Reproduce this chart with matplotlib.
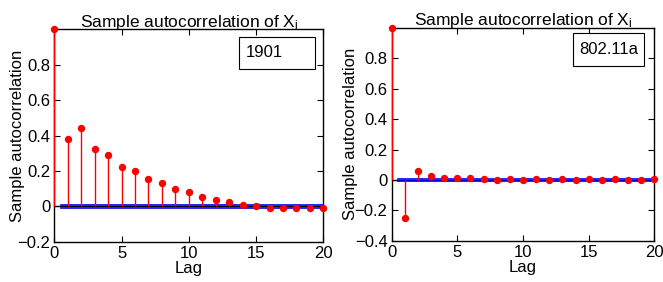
import numpy as np
import matplotlib
matplotlib.use("Agg")
import matplotlib.pyplot as plt
from matplotlib.patches import Rectangle

plt.rcParams['font.family'] = ['Liberation Sans', 'DejaVu Sans']
plt.rcParams['mathtext.fontset'] = 'custom'
plt.rcParams['mathtext.rm'] = 'Liberation Sans'

# lags 0..20
lags = list(range(21))
acf_1901 = [1.0, 0.381, 0.445, 0.321, 0.289, 0.221, 0.202, 0.153, 0.134, 0.100,
            0.079, 0.053, 0.034, 0.027, 0.008, 0.002, -0.010, -0.010, -0.010,
            -0.010, -0.010]
acf_80211a = [1.0, -0.248, 0.056, 0.024, 0.015, 0.015, 0.010, 0.003, 0.002, 0.005,
              -0.002, 0.008, -0.002, 0.003, 0.000, 0.003, 0.002, 0.007, 0.002,
              0.000, 0.005]
bounds_1901 = [0.008, -0.008]
bounds_80211a = [0.004, -0.004]
labels = ["1901", "802.11a"]

fig = plt.figure(figsize=(6.63, 2.82), dpi=100)
ax1 = fig.add_axes([0.0819, 0.1429, 0.4058, 0.7532])
ax2 = fig.add_axes([0.5908, 0.1465, 0.3961, 0.7542])


def draw_acf(ax, acf, bounds, label, ylim, yticks, ylabel_x, box):
    ax.axhline(0, color='k', lw=1.0, zorder=1)
    for b in bounds:
        ax.plot([0.5, 20], [b, b], color='#0000ff', lw=1.2, zorder=2)
    ax.vlines(lags, 0, acf, color='#ff0000', lw=1.0, zorder=3, clip_on=False)
    ax.plot(lags, acf, 'o', color='#ff0000', markersize=4.3, zorder=4, clip_on=False)

    ax.set_xlim(0, 20)
    ax.set_ylim(*ylim)
    ax.set_xticks([0, 5, 10, 15, 20])
    ax.set_yticks(yticks)
    ax.set_yticklabels(['0' if abs(t) < 1e-9 else f'{t:g}'.replace('-', '\u2212') for t in yticks])
    ax.tick_params(direction='in', top=True, right=True, length=4, labelsize=12, pad=3)
    for s in ax.spines.values():
        s.set_linewidth(1.0)
    ax.set_title(r'Sample autocorrelation of $\mathregular{X_i}$', fontsize=12.5, pad=2)
    ax.set_xlabel('Lag', fontsize=12, labelpad=0)
    ax.set_ylabel('Sample autocorrelation', fontsize=12)
    ax.yaxis.set_label_coords(ylabel_x, 0.5)

    x0, y0, x1, y1 = box
    ax.add_patch(Rectangle((x0, y0), x1 - x0, y1 - y0, transform=ax.transAxes,
                           fc='white', ec='k', lw=0.8, zorder=5))
    ax.text(x0 + 0.025, (y0 + y1) / 2, label, transform=ax.transAxes,
            fontsize=12, va='center', ha='left', zorder=6)


draw_acf(ax1, acf_1901, bounds_1901, labels[0], (-0.2, 1.0),
         [-0.2, 0, 0.2, 0.4, 0.6, 0.8], -0.109, (0.687, 0.813, 0.969, 0.964))
draw_acf(ax2, acf_80211a, bounds_80211a, labels[1], (-0.4, 1.0),
         [-0.4, -0.2, 0, 0.2, 0.4, 0.6, 0.8], -0.128, (0.689, 0.821, 0.962, 0.9765))

fig.savefig('out.png', dpi=100)
